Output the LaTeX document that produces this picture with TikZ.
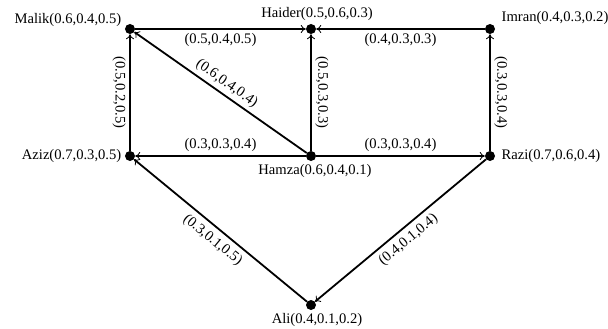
\documentclass[tikz,border=0pt]{standalone}
\usepackage{fontspec}
\setmainfont{Liberation Serif}
\usepackage{tikz}
\usetikzlibrary{arrows.meta, positioning}

\begin{document}
\begin{tikzpicture}[on grid, font=\fontsize{14.6}{16}\selectfont,
        vertex/.style={circle, fill, inner sep=0pt, minimum size=10pt},
        arc/.style={-{To[length=5pt, width=8pt, line width=0.8pt]}, line width=1.8pt}]
        \useasboundingbox (-130pt,29pt) rectangle (478pt,-300pt);

        \node[vertex, label={[yshift=9pt]left:Malik(0.6,0.4,0.5)}] (malik) {};
        \node[vertex, label={[xshift=6pt]above:Haider(0.5,0.6,0.3)}] (haider) [right=181pt of malik] {};
        \node[vertex, label={[yshift=11pt, label distance=3pt]right:Imran(0.4,0.3,0.2)}] (imran) [right=179pt of haider] {};
        \node[vertex, label={[xshift=4pt]below:Hamza(0.6,0.4,0.1)}] (hamza) [below=127pt of haider] {};
        \node[vertex, label={left:Aziz(0.7,0.3,0.5)}] (aziz) [left=181pt of hamza] {};
        \node[vertex, label={[label distance=3pt]right:Razi(0.7,0.6,0.4)}] (razi) [right=179pt of hamza] {};
        \node[vertex, label={[xshift=6pt]below:Ali(0.4,0.1,0.2)}] (ali) [below=149pt of hamza] {};

        \path[arc]
        (malik) edge node[below] {(0.5,0.4,0.5)} (haider)
        (imran) edge node[below] {(0.4,0.3,0.3)} (haider)

        (aziz) edge node[rotate=-90, anchor=north] {(0.5,0.2,0.5)} (malik)
        (hamza) edge node[rotate=-90, anchor=south] {(0.5,0.3,0.3)} (haider)
        (razi) edge node[rotate=-90, anchor=south] {(0.3,0.3,0.4)} (imran)
        (hamza) edge node[sloped, above] {(0.6,0.4,0.4)} (malik)

        (hamza) edge node[above] {(0.3,0.3,0.4)} (aziz)
        (hamza) edge node[above] {(0.3,0.3,0.4)} (razi)

        (ali) edge node[sloped, below, inner sep=5pt] {(0.3,0.1,0.5)} (aziz)
        (razi) edge node[sloped, below, inner sep=5pt] {(0.4,0.1,0.4)} (ali);

    \end{tikzpicture}
\end{document}
